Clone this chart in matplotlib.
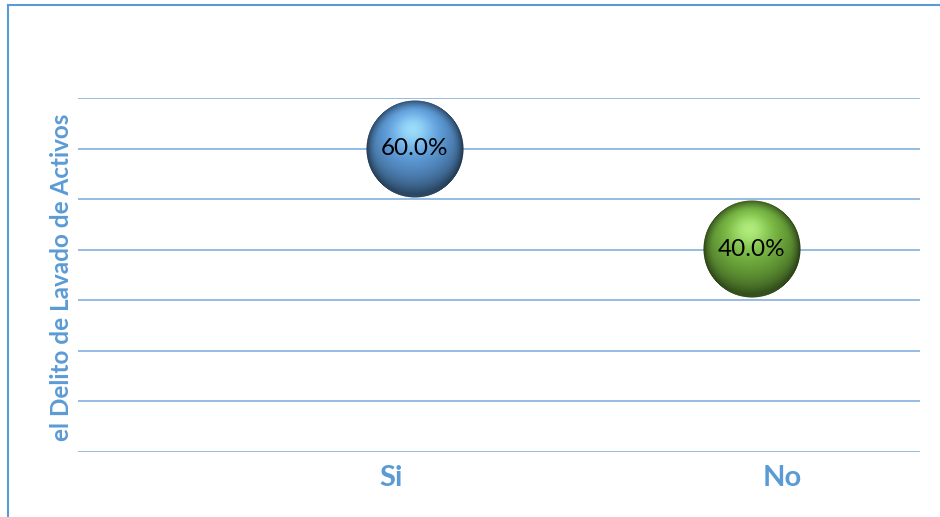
import numpy as np
import matplotlib
matplotlib.use("Agg")
import matplotlib.pyplot as plt
from matplotlib.offsetbox import OffsetImage, AnnotationBbox
from matplotlib.lines import Line2D

categories = ["Si", "No"]
values = [0.60, 0.40]
x_pos = [1, 2]
base_colors = [(0.36, 0.60, 0.84), (0.44, 0.68, 0.24)]
highlight_colors = [(0.70, 0.95, 1.0), (0.78, 1.0, 0.58)]
y_label = "el Delito de Lavado de Activos"

W, H = 940, 517
fig = plt.figure(figsize=(W / 100, H / 100), dpi=100)
ax = fig.add_axes([78 / W, 1 - 451.5 / H, (920 - 78) / W, (451.5 - 98) / H])
ax.set_xlim(0, 2.5)
ax.set_ylim(0, 0.7)
ax.set_yticks(np.arange(0, 0.71, 0.1))
ax.set_yticklabels([])
ax.tick_params(axis="y", length=0)
ax.grid(axis="y", color="#8DB6E0", linewidth=1.3)
ax.set_axisbelow(True)
for s in ax.spines.values():
    s.set_visible(False)

# category labels
ax.set_xticks([0.93, 2.09])
ax.set_xticklabels(categories, fontsize=21, fontweight="bold", color="#5B9BD5", family="Lato")
ax.tick_params(axis="x", length=0, pad=10)


def sphere(base, hi, n=200):
    v, u = np.mgrid[1:-1:n * 1j, -1:1:n * 1j]
    r2 = u ** 2 + v ** 2
    r = np.sqrt(r2)
    z = np.sqrt(np.clip(1 - r2, 0, 1))
    L = np.array([-0.05, 0.40, 0.92])
    L = L / np.linalg.norm(L)
    d = np.clip(u * L[0] + v * L[1] + z * L[2], 0, 1)
    base = np.array(base)
    hi = np.array(hi)
    col = base[None, None, :] * (0.45 + 0.65 * d[..., None])
    spec = d ** 14
    col = col * (1 - 0.7 * spec[..., None]) + hi[None, None, :] * 0.7 * spec[..., None]
    # darken rim
    edge = np.clip((r - 0.80) / 0.20, 0, 1) ** 1.5
    col = col * (1 - 0.35 * edge[..., None])
    # bottom rim reflection
    rim = np.clip((r - 0.82) / 0.18, 0, 1) * np.clip(-v, 0, 1)
    col = col + 0.18 * rim[..., None] * base[None, None, :]
    col = np.clip(col, 0, 1)
    alpha = np.clip((1 - r) * n / 2, 0, 1)
    return np.dstack([col, alpha])


diam_px = 98
for xi, yi, bc, hc in zip(x_pos, values, base_colors, highlight_colors):
    img = sphere(bc, hc)
    oi = OffsetImage(img, zoom=diam_px / 200 * 72 / 100)
    ab = AnnotationBbox(oi, (xi, yi), frameon=False, pad=0, zorder=3)
    ax.add_artist(ab)
    ax.text(xi, yi, f"{yi * 100:.1f}%", ha="center", va="center", fontsize=17.5,
            family="Lato", color="black", zorder=4)

fig.text(62 / W, 1 - 277 / H, y_label, rotation=90, ha="center", va="center",
         fontsize=17.5, fontweight="bold", color="#5B9BD5", family="Lato")

# outer frame (left and top edges visible)
fig.add_artist(Line2D([8 / W, 8 / W], [-0.1, 1 - 5 / H], transform=fig.transFigure,
                      color="#5B9BD5", linewidth=1.5))
fig.add_artist(Line2D([8 / W, 1.1], [1 - 5 / H, 1 - 5 / H], transform=fig.transFigure,
                      color="#5B9BD5", linewidth=1.5))

fig.savefig("out.png", dpi=100)
